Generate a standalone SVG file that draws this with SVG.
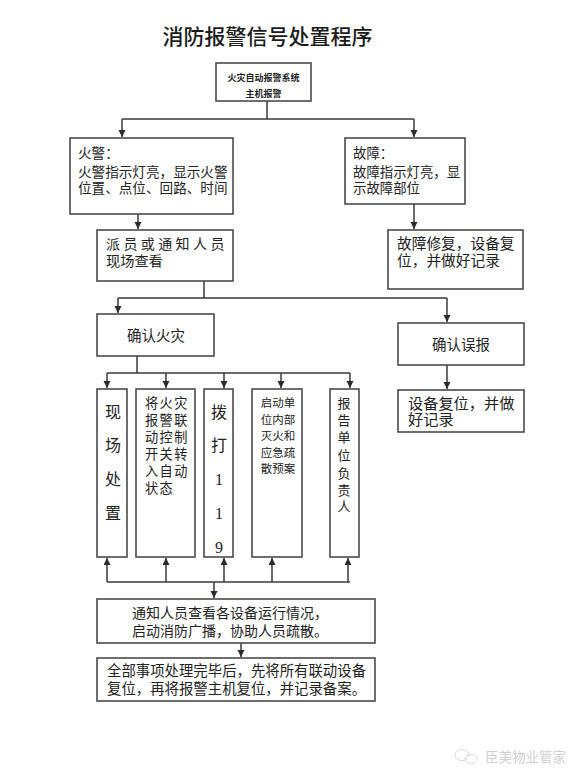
<svg xmlns="http://www.w3.org/2000/svg" width="588" height="777" viewBox="0 0 588 777">
<style>
.box{fill:#fff;stroke:#4a4a4a;stroke-width:1.6}
.t{font-family:"Liberation Serif","Noto Sans CJK SC",serif;fill:#222}
.c{text-anchor:middle}
.v{text-anchor:middle;dominant-baseline:central}
.ln{fill:none;stroke:#3a3a3a;stroke-width:1.5}
</style>
<defs>
<marker id="ah" markerUnits="userSpaceOnUse" markerWidth="8" markerHeight="8" refX="7" refY="3.5" orient="auto">
<path d="M0,0 L7,3.5 L0,7 z" fill="#2a2a2a"/>
</marker>
</defs>
<rect width="588" height="777" fill="#fff"/>
<text class="c" x="267.5" y="44" font-size="21" font-weight="500" fill="#1a1a1a" style="font-family:'Noto Sans CJK SC',sans-serif">消防报警信号处置程序</text>

<g id="connectors">
<path class="ln" d="M267,101 V119 M122,119 H414"/>
<path class="ln" d="M122,119 V137" marker-end="url(#ah)"/>
<path class="ln" d="M414,119 V137" marker-end="url(#ah)"/>
<path class="ln" d="M138,214 V229" marker-end="url(#ah)"/>
<path class="ln" d="M414,204 V229" marker-end="url(#ah)"/>
<path class="ln" d="M204,281 V298 M118,298 H447"/>
<path class="ln" d="M118,298 V313" marker-end="url(#ah)"/>
<path class="ln" d="M447,298 V322" marker-end="url(#ah)"/>
<path class="ln" d="M447,365 V389" marker-end="url(#ah)"/>
<path class="ln" d="M137,356 V373 M107,373 H350"/>
<path class="ln" d="M107,373 V388" marker-end="url(#ah)"/>
<path class="ln" d="M166,373 V388" marker-end="url(#ah)"/>
<path class="ln" d="M224,373 V388" marker-end="url(#ah)"/>
<path class="ln" d="M281,373 V388" marker-end="url(#ah)"/>
<path class="ln" d="M350,373 V388" marker-end="url(#ah)"/>
<path class="ln" d="M107,582 H350"/>
<path class="ln" d="M107,582 V558" marker-end="url(#ah)"/>
<path class="ln" d="M166,582 V558" marker-end="url(#ah)"/>
<path class="ln" d="M224,582 V558" marker-end="url(#ah)"/>
<path class="ln" d="M272,582 V558" marker-end="url(#ah)"/>
<path class="ln" d="M348,582 V558" marker-end="url(#ah)"/>
<path class="ln" d="M214,582 V598" marker-end="url(#ah)"/>
<path class="ln" d="M241,643 V657" marker-end="url(#ah)"/>
</g>

<g id="n-host">
<rect class="box" x="216" y="63" width="95" height="38"/>
<text class="t c" x="263.5" y="81" font-size="9" font-weight="bold">火灾自动报警系统</text>
<text class="t c" x="263.5" y="97" font-size="9" font-weight="bold">主机报警</text>
</g>

<g id="n-fire">
<rect class="box" x="70" y="138" width="163" height="76"/>
<text class="t" x="78" y="158" font-size="13.6">火警：</text>
<text class="t" x="78" y="177" font-size="13.6">火警指示灯亮，显示火警</text>
<text class="t" x="78" y="193" font-size="13.6">位置、点位、回路、时间</text>
</g>

<g id="n-fault">
<rect class="box" x="345" y="138" width="120" height="66"/>
<text class="t" x="353" y="158" font-size="13.4">故障：</text>
<text class="t" x="353" y="177" font-size="13.4">故障指示灯亮，显</text>
<text class="t" x="353" y="193" font-size="13.4">示故障部位</text>
</g>

<g id="n-dispatch">
<rect class="box" x="97" y="230" width="136" height="51"/>
<text class="t" x="106" y="249" font-size="14" letter-spacing="3.4">派员或通知人员</text>
<text class="t" x="106" y="266" font-size="14.2">现场查看</text>
</g>

<g id="n-repair">
<rect class="box" x="388" y="230" width="135" height="59"/>
<text class="t" x="397" y="249" font-size="14.7">故障修复，设备复</text>
<text class="t" x="397" y="266" font-size="14.7">位，并做好记录</text>
</g>

<g id="n-confirm-fire">
<rect class="box" x="97" y="314" width="117" height="42"/>
<text class="t c" x="156" y="341" font-size="14.5">确认火灾</text>
</g>

<g id="n-confirm-false">
<rect class="box" x="398" y="323" width="126" height="42"/>
<text class="t c" x="461" y="350" font-size="14.5">确认误报</text>
</g>

<g id="n-reset">
<rect class="box" x="398" y="390" width="126" height="42"/>
<text class="t" x="408" y="409" font-size="15.2">设备复位，并做</text>
<text class="t" x="408" y="425" font-size="15.2">好记录</text>
</g>

<g id="n-onsite">
<rect class="box" x="97" y="389" width="30" height="168"/>
<text class="t v" x="113" y="412" font-size="16">现</text>
<text class="t v" x="113" y="445" font-size="16">场</text>
<text class="t v" x="113" y="479" font-size="16">处</text>
<text class="t v" x="113" y="513" font-size="16">置</text>
</g>

<g id="n-linkage">
<rect class="box" x="136" y="389" width="59" height="168"/>
<text class="t" x="145" y="408" font-size="13.2" letter-spacing="1.4">将火灾</text>
<text class="t" x="145" y="425" font-size="13.2" letter-spacing="1.4">报警联</text>
<text class="t" x="145" y="442" font-size="13.2" letter-spacing="1.4">动控制</text>
<text class="t" x="145" y="459" font-size="13.2" letter-spacing="1.4">开关转</text>
<text class="t" x="145" y="476" font-size="13.2" letter-spacing="1.4">入自动</text>
<text class="t" x="145" y="493" font-size="13.2" letter-spacing="1.4">状态</text>
</g>

<g id="n-119">
<rect class="box" x="204" y="389" width="29" height="168"/>
<text class="t v" x="219" y="412" font-size="16">拨</text>
<text class="t v" x="219" y="445" font-size="16">打</text>
<text class="t v" x="219" y="479" font-size="16">1</text>
<text class="t v" x="219" y="513" font-size="16">1</text>
<text class="t v" x="219" y="547" font-size="16">9</text>
</g>

<g id="n-plan">
<rect class="box" x="252" y="389" width="50" height="168"/>
<text class="t v" x="278" y="403" font-size="11.5">启动单</text>
<text class="t v" x="278" y="419.5" font-size="11.5">位内部</text>
<text class="t v" x="278" y="436" font-size="11.5">灭火和</text>
<text class="t v" x="278" y="452.5" font-size="11.5">应急疏</text>
<text class="t v" x="278" y="469" font-size="11.5">散预案</text>
</g>

<g id="n-report">
<rect class="box" x="330" y="389" width="29" height="168"/>
<text class="t v" x="344" y="403" font-size="13">报</text>
<text class="t v" x="344" y="420" font-size="13">告</text>
<text class="t v" x="344" y="437" font-size="13">单</text>
<text class="t v" x="344" y="455" font-size="13">位</text>
<text class="t v" x="344" y="473" font-size="13">负</text>
<text class="t v" x="344" y="490" font-size="13">责</text>
<text class="t v" x="344" y="506" font-size="13">人</text>
</g>

<g id="n-notify">
<rect class="box" x="97" y="599" width="278" height="44"/>
<text class="t" x="132" y="618" font-size="14">通知人员查看各设备运行情况，</text>
<text class="t" x="132" y="636" font-size="14">启动消防广播，协助人员疏散。</text>
</g>

<g id="n-final">
<rect class="box" x="97" y="658" width="278" height="43"/>
<text class="t" x="107" y="676" font-size="14.4">全部事项处理完毕后，先将所有联动设备</text>
<text class="t" x="107" y="694" font-size="14.4">复位，再将报警主机复位，并记录备案。</text>
</g>

<g id="watermark" opacity="0.55">
<ellipse cx="462" cy="755" rx="7" ry="5.5" fill="none" stroke="#bbb" stroke-width="1"/>
<ellipse cx="471" cy="759" rx="6" ry="4.5" fill="none" stroke="#bbb" stroke-width="1"/>
<text x="485" y="762" font-size="13.5" fill="#aaa" style="font-family:'Noto Sans CJK SC',sans-serif">臣美物业管家</text>
</g>
</svg>
